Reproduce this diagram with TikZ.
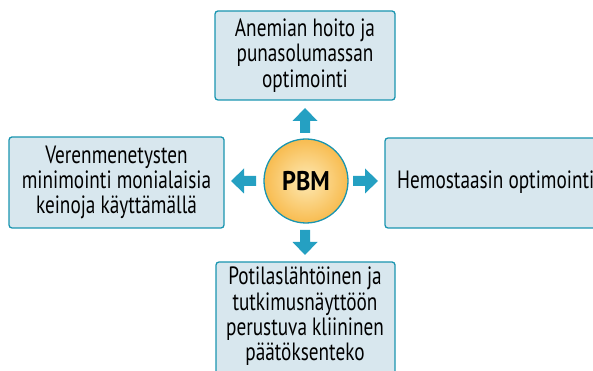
\documentclass[tikz,border=0pt]{standalone}
\usepackage{fontspec}
\setmainfont{PT Sans}[FakeStretch=0.77]
\newfontfamily\pbmfont{PT Sans}[FakeStretch=0.9]
\definecolor{boxfill}{HTML}{D8E7EE}
\definecolor{boxline}{HTML}{1A95B0}
\definecolor{arrowc}{HTML}{25A0C2}
\definecolor{circin}{HTML}{FDE9B4}
\definecolor{circout}{HTML}{F8BC50}
\tikzset{
  infobox/.style={draw=boxline, line width=1.3pt, fill=boxfill, rounded corners=3pt},
  boxtext/.style={align=center, font=\fontsize{25}{25.3}\selectfont, inner sep=0pt, text=black},
}
\newcommand\blockarrow[3]{%
  \fill[arrowc, shift={(#1,#2)}, rotate=#3] (0,-5) -- (12,-5) -- (12,-12.5) -- (25,0) -- (12,12.5) -- (12,5) -- (0,5) -- cycle;}
\begin{document}
\begin{tikzpicture}[x=1pt,y=1pt]
\useasboundingbox (0,0) rectangle (593,371);
\clip (0,0) rectangle (593,371);
% boxes
\draw[infobox] (215,271) rectangle (395,360);
\draw[infobox] (9,143) rectangle (224,234);
\draw[infobox] (385,143) rectangle (640,233);
\draw[infobox] (216,-20) rectangle (395,109);
\node[boxtext] (top) at (305,315.5) {Anemian hoito ja\\punasolumassan\\optimointi};
\node[boxtext] (left) at (116.5,188.5) {Verenmenetysten\\minimointi monialaisia\\keinoja käyttämällä};
\node[boxtext, anchor=west] (right) at (397,189) {Hemostaasin optimointi};
\node[boxtext, anchor=north] (bottom) at (305,104) {Potilaslähtöinen ja\\tutkimusnäyttöön\\perustuva kliininen\\päätöksenteko};
% circle
\node[circle, draw=boxline, line width=1.3pt, minimum size=84pt, inner sep=0pt,
  inner color=circin, outer color=circout, font=\pbmfont\fontsize{27}{28}\selectfont\bfseries] (pbm) at (306,190) {PBM};
% arrows
\blockarrow{305}{238}{90}
\blockarrow{305}{141}{-90}
\blockarrow{256}{190}{180}
\blockarrow{353}{190}{0}
\end{tikzpicture}
\end{document}
